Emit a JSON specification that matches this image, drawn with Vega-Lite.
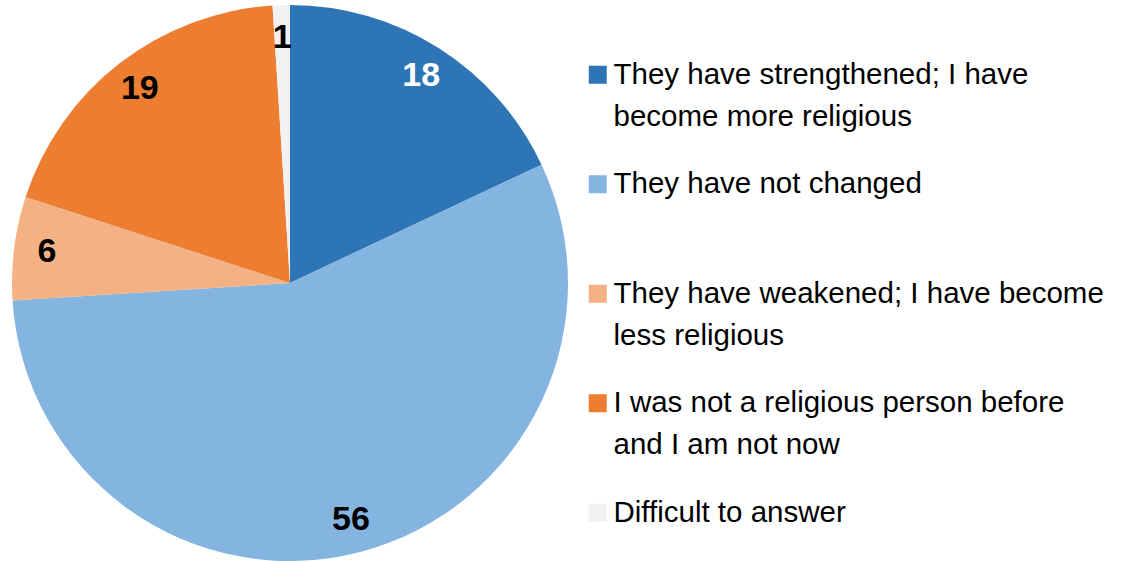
{
  "$schema": "https://vega.github.io/schema/vega-lite/v6.json",
  "width": 580,
  "height": 566,
  "padding": 0,
  "background": "white",
  "config": {
    "style": {"guide-label": {"lineHeight": 42}}
  },
  "data": {
    "values": [
      {"idx": 1, "category": "They have strengthened; I have become more religious", "value": 18},
      {"idx": 2, "category": "They have not changed", "value": 56},
      {"idx": 3, "category": "They have weakened; I have become less religious", "value": 6},
      {"idx": 4, "category": "I was not a religious person before and I am not now", "value": 19},
      {"idx": 5, "category": "Difficult to answer", "value": 1}
    ]
  },
  "encoding": {
    "theta": {"field": "value", "type": "quantitative", "stack": true},
    "order": {"field": "idx", "type": "quantitative"}
  },
  "layer": [
    {
      "mark": {"type": "arc", "outerRadius": 278},
      "encoding": {
        "color": {
          "field": "category",
          "type": "nominal",
          "scale": {
            "domain": [
              "They have strengthened; I have become more religious",
              "They have not changed",
              "They have weakened; I have become less religious",
              "I was not a religious person before and I am not now",
              "Difficult to answer"
            ],
            "range": ["#2E75B6", "#84B4E0", "#F4B183", "#ED7D31", "#F2F2F2"]
          },
          "legend": {
            "orient": "none",
            "legendX": 583,
            "legendY": 60,
            "title": null,
            "symbolType": "square",
            "symbolSize": 324,
            "symbolStrokeWidth": 0,
            "labelFont": "Liberation Sans",
            "labelFontSize": 29.5,
            "labelColor": "black",
            "labelBaseline": "middle",
            "labelOffset": 1,
            "labelLimit": 600,
            "rowPadding": 36.5,
            "labelExpr": "datum.label == 'They have strengthened; I have become more religious' ? ['They have strengthened; I have', 'become more religious'] : datum.label == 'They have not changed' ? ['They have not changed', ''] : datum.label == 'They have weakened; I have become less religious' ? ['They have weakened; I have become', 'less religious'] : datum.label == 'I was not a religious person before and I am not now' ? ['I was not a religious person before', 'and I am not now'] : [datum.label, '']"
          }
        }
      }
    },
    {
      "mark": {
        "type": "text",
        "radius": 245,
        "font": "Liberation Sans",
        "fontSize": 34,
        "fontWeight": "bold"
      },
      "encoding": {
        "detail": {"field": "category", "type": "nominal"},
        "text": {"field": "value", "type": "quantitative"},
        "color": {
          "condition": {"test": "datum.idx == 1", "value": "white"},
          "value": "black"
        }
      }
    }
  ]
}
